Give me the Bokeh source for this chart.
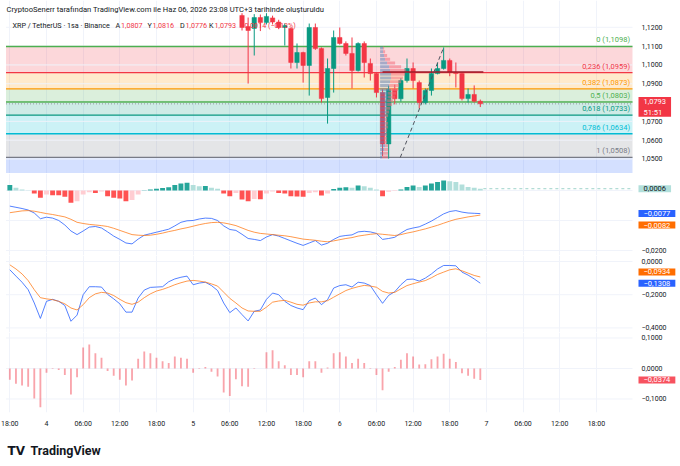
from bokeh.plotting import figure
from bokeh.layouts import column
from bokeh.models import (Range1d, FixedTicker, BoxAnnotation, Label, ColumnDataSource)
from bokeh.core.properties import value
from bokeh.embed import file_html
from bokeh.resources import INLINE

# ---------------- data ----------------
credit_text = "CryptooSenerr tarafından TradingView.com ile Haz 06, 2026 23:08 UTC+3 tarihinde oluşturuldu"
symbol_text = "XRP / TetherUS · 1sa · Binance"
countdown_text = "51:51"
price_change = -0.0014
price_change_pct = -0.13

# hours counted from day 4, 00:00
x_tick_hours = [-6, 0, 6, 12, 18, 24, 30, 36, 42, 48, 54, 60, 66, 72, 78, 84, 90]
x_tick_labels = ["18:00", "4", "06:00", "12:00", "18:00", "5", "06:00", "12:00", "18:00",
                 "6", "06:00", "12:00", "18:00", "7", "06:00", "12:00", "18:00"]

# grid levels and the labels that are visible (others sit behind value tags)
price_grid = [1.05, 1.06, 1.07, 1.08, 1.09, 1.10, 1.11, 1.12]
price_labels = [1.05, 1.06, 1.07, 1.09, 1.10, 1.11, 1.12]
macd_grid = [0.0, -0.01, -0.02]
macd_labels = [-0.02]
osc_grid = [0.0, -0.2, -0.4]
osc_labels = [0.0, -0.2, -0.4]
mom_grid = [0.1, 0.0, -0.1]
mom_labels = [0.1, 0.0, -0.1]

candle_hours = list(range(32, 72))
candle_open = [1.1263, 1.1204, 1.1194, 1.1252, 1.1225, 1.1250, 1.1228, 1.1199, 1.1194, 1.1013,
               1.1066, 1.0997, 1.1199, 1.1087, 1.0827, 1.0981, 1.1146, 1.1114, 1.1061, 1.0970,
               1.1114, 1.1008, 1.0954, 1.0853, 1.0580, 1.0870, 1.0820, 1.0917, 1.0981, 1.0906,
               1.0800, 1.0864, 1.0954, 1.0981, 1.1024, 1.0960, 1.0954, 1.0821, 1.0843, 1.0807]
candle_high = [1.1275, 1.1252, 1.1270, 1.1268, 1.1275, 1.1262, 1.1240, 1.1220, 1.1199, 1.1114,
               1.1070, 1.1220, 1.1220, 1.1093, 1.1034, 1.1183, 1.1199, 1.1125, 1.1146, 1.1120,
               1.1125, 1.1034, 1.0960, 1.0870, 1.0890, 1.0895, 1.0930, 1.1034, 1.1013, 1.0917,
               1.0875, 1.0981, 1.1013, 1.1093, 1.1034, 1.1013, 1.0960, 1.0875, 1.0891, 1.0816]
candle_low = [1.1183, 1.0901, 1.1050, 1.1180, 1.1215, 1.1215, 1.1190, 1.1103, 1.0981, 1.0981,
              1.0906, 1.0837, 1.1080, 1.0800, 1.0688, 1.0853, 1.1108, 1.1050, 1.0875, 1.0965,
              1.0933, 1.0917, 1.0827, 1.0515, 1.0502, 1.0790, 1.0805, 1.0906, 1.0875, 1.0768,
              1.0790, 1.0837, 1.0950, 1.0975, 1.0940, 1.0880, 1.0811, 1.0800, 1.0800, 1.0776]
candle_close = [1.1199, 1.1183, 1.1252, 1.1225, 1.1258, 1.1228, 1.1199, 1.1209, 1.1013, 1.1066,
                1.0997, 1.1199, 1.1087, 1.0821, 1.0981, 1.1146, 1.1114, 1.1061, 1.0970, 1.1114,
                1.1013, 1.0954, 1.0853, 1.0580, 1.0870, 1.0820, 1.0917, 1.0981, 1.0917, 1.0800,
                1.0864, 1.0954, 1.0981, 1.1024, 1.0960, 1.0954, 1.0821, 1.0843, 1.0807, 1.0793]

fib_ratios = [0, 0.236, 0.382, 0.5, 0.618, 0.786, 1, 1.618]
fib_prices = [1.1098, 1.0959, 1.0873, 1.0803, 1.0733, 1.0634, 1.0508, 1.0143]
fib_colors = ["#4caf50", "#f23645", "#ff9800", "#4caf50", "#089981", "#00bcd4", "#787b86", "#2962ff"]

vp_prices = [1.0510, 1.0530, 1.0550, 1.0570, 1.0590, 1.0610, 1.0630, 1.0650, 1.0670, 1.0690,
             1.0710, 1.0730, 1.0750, 1.0770, 1.0790, 1.0810, 1.0830, 1.0850, 1.0870, 1.0890,
             1.0910, 1.0930, 1.0950, 1.0970, 1.0990, 1.1010, 1.1030, 1.1050, 1.1070, 1.1090]
vp_up = [2, 3, 4, 5, 4, 4, 5, 5, 5, 5, 5, 5, 6, 6, 7, 7, 8, 8, 9, 9, 10, 11, 11, 10, 9, 7, 5, 4, 3, 3]
vp_down = [6, 5, 4, 3, 3, 3, 2, 2, 3, 3, 2, 3, 3, 4, 5, 6, 7, 8, 9, 10, 11, 12, 14, 16, 12, 8, 5, 3, 2, 1]
vp_start_hour = 54.6
poc_price = 1.0962
poc_hours = [55.0, 71.5]

trend_hours = [57.9, 65.0]
trend_prices = [1.0508, 1.1093]

ind_hours = list(range(-6, 72))
macd_hist = [0.0018, 0.0009, 0.0003, 0.0001, -0.0010, -0.0024,
             -0.0013, -0.0016, -0.0016, -0.0021, -0.0041, -0.0036, -0.0013, -0.0006, -0.0008, -0.0003,
             -0.0019, -0.0024, -0.0027, -0.0036, -0.0032, -0.0013, 0.0001, 0.0003, 0.0006, 0.0008,
             0.0011, 0.0018, 0.0023, 0.0026, 0.0018, 0.0014, 0.0015, 0.0009, 0.0006, -0.0010,
             -0.0019, -0.0008, -0.0030, -0.0036, -0.0028, -0.0029, -0.0010, -0.0003, -0.0008, -0.0010,
             -0.0019, -0.0020, -0.0021, -0.0008, -0.0006, -0.0017, -0.0010, 0.0005, 0.0009, 0.0011,
             0.0009, 0.0017, 0.0014, 0.0009, 0.0003, -0.0019, -0.0004, -0.0002, 0.0003, 0.0012,
             0.0017, 0.0012, 0.0017, 0.0023, 0.0028, 0.0033, 0.0031, 0.0028, 0.0020, 0.0012,
             0.0009, 0.0006]
macd_line = [-0.0052, -0.0056, -0.0060, -0.0065, -0.0075, -0.0094,
             -0.0089, -0.0092, -0.0100, -0.0115, -0.0135, -0.0147, -0.0135, -0.0122, -0.0120, -0.0125,
             -0.0138, -0.0152, -0.0163, -0.0175, -0.0178, -0.0162, -0.0149, -0.0144, -0.0139, -0.0134,
             -0.0129, -0.0118, -0.0106, -0.0101, -0.0100, -0.0095, -0.0092, -0.0093, -0.0100, -0.0118,
             -0.0130, -0.0133, -0.0146, -0.0160, -0.0163, -0.0167, -0.0155, -0.0147, -0.0152, -0.0160,
             -0.0168, -0.0176, -0.0183, -0.0175, -0.0167, -0.0182, -0.0176, -0.0163, -0.0153, -0.0150,
             -0.0148, -0.0138, -0.0136, -0.0138, -0.0143, -0.0163, -0.0160, -0.0156, -0.0142, -0.0130,
             -0.0125, -0.0121, -0.0112, -0.0102, -0.0090, -0.0078, -0.0070, -0.0067, -0.0072, -0.0075,
             -0.0076, -0.0077]
signal_line = [-0.0074, -0.0071, -0.0068, -0.0067, -0.0069, -0.0073,
               -0.0077, -0.0080, -0.0084, -0.0088, -0.0096, -0.0106, -0.0110, -0.0113, -0.0115, -0.0117,
               -0.0120, -0.0126, -0.0133, -0.0140, -0.0147, -0.0149, -0.0150, -0.0149, -0.0146, -0.0142,
               -0.0137, -0.0133, -0.0128, -0.0124, -0.0119, -0.0114, -0.0110, -0.0107, -0.0106, -0.0108,
               -0.0112, -0.0117, -0.0125, -0.0133, -0.0139, -0.0143, -0.0145, -0.0147, -0.0149, -0.0151,
               -0.0154, -0.0158, -0.0162, -0.0164, -0.0166, -0.0169, -0.0171, -0.0168, -0.0164, -0.0160,
               -0.0157, -0.0152, -0.0149, -0.0146, -0.0144, -0.0146, -0.0148, -0.0150, -0.0147, -0.0142,
               -0.0138, -0.0133, -0.0128, -0.0122, -0.0116, -0.0109, -0.0102, -0.0096, -0.0092, -0.0088,
               -0.0085, -0.0082]
osc_blue = [-0.050, -0.088, -0.125, -0.170, -0.250, -0.343,
            -0.240, -0.228, -0.240, -0.265, -0.360, -0.323, -0.200, -0.152, -0.152, -0.154,
            -0.198, -0.225, -0.255, -0.305, -0.305, -0.220, -0.172, -0.156, -0.154, -0.152,
            -0.122, -0.105, -0.095, -0.088, -0.140, -0.130, -0.125, -0.145, -0.175, -0.250,
            -0.308, -0.280, -0.320, -0.358, -0.300, -0.292, -0.228, -0.190, -0.200, -0.240,
            -0.265, -0.280, -0.290, -0.236, -0.220, -0.260, -0.230, -0.160, -0.145, -0.140,
            -0.154, -0.125, -0.130, -0.145, -0.200, -0.252, -0.204, -0.182, -0.140, -0.108,
            -0.106, -0.118, -0.100, -0.075, -0.045, -0.024, -0.024, -0.026, -0.064, -0.082,
            -0.105, -0.1308]
osc_orange = [-0.020, -0.045, -0.075, -0.115, -0.170, -0.218,
              -0.225, -0.230, -0.240, -0.255, -0.280, -0.292, -0.260, -0.218, -0.195, -0.186,
              -0.190, -0.205, -0.228, -0.248, -0.258, -0.245, -0.218, -0.195, -0.178, -0.168,
              -0.155, -0.140, -0.128, -0.118, -0.114, -0.118, -0.124, -0.135, -0.148, -0.185,
              -0.222, -0.250, -0.280, -0.298, -0.300, -0.300, -0.275, -0.245, -0.238, -0.234,
              -0.245, -0.258, -0.263, -0.250, -0.243, -0.243, -0.236, -0.215, -0.195, -0.175,
              -0.162, -0.152, -0.144, -0.148, -0.155, -0.180, -0.190, -0.186, -0.165, -0.145,
              -0.134, -0.124, -0.115, -0.098, -0.078, -0.064, -0.050, -0.044, -0.056, -0.070,
              -0.084, -0.0934]
mom_bars = [-0.037, -0.050, -0.056, -0.060, -0.098, -0.127,
            -0.014, 0.002, -0.005, -0.021, -0.085, -0.029, 0.069, 0.079, 0.050, 0.035,
            -0.008, -0.024, -0.037, -0.056, -0.039, 0.032, 0.056, 0.050, 0.035, 0.024,
            0.018, 0.039, 0.035, 0.032, -0.014, 0.002, 0.005, -0.011, -0.026, -0.079,
            -0.090, -0.035, -0.058, -0.060, 0.002, 0.000, 0.053, 0.060, 0.024, 0.011,
            -0.021, -0.021, -0.029, 0.024, 0.024, -0.014, 0.003, 0.050, 0.053, 0.039,
            0.018, 0.032, 0.018, 0.002, -0.021, -0.071, -0.011, 0.005, 0.029, 0.050,
            0.039, 0.013, 0.014, 0.030, 0.039, 0.048, 0.032, 0.021, -0.016, -0.024,
            -0.034, -0.0374]

# ---------------- style / geometry ----------------
FONT = "Roboto"
TXT = "#131722"
UP = "#089981"
DOWN = "#f23645"
GRID = "#f0f3fa"
W = 676                     # canvas width (chart + price scale)
PX_PER_HOUR = 6.11
ZERO_PX = 46.0              # pixel of day-4 00:00
X_START = -ZERO_PX / PX_PER_HOUR
X_END = (W - ZERO_PX) / PX_PER_HOUR
CHART_START = (5.5 - ZERO_PX) / PX_PER_HOUR
CHART_END = (632 - ZERO_PX) / PX_PER_HOUR


def tr(v, d=4):
    s = f"{abs(v):.{d}f}".replace(".", ",")
    return ("\u2212" if v < 0 else "") + s


x_range = Range1d(X_START, X_END)


def make_fig(frame_h, y0, y1, grid, labels, show_x=False, bottom=0):
    p = figure(frame_width=W, frame_height=frame_h, x_range=x_range,
               y_range=Range1d(y0, y1), y_axis_location=None,
               x_axis_location="below" if show_x else None,
               toolbar_location=None, output_backend="svg",
               min_border_left=0, min_border_right=0, min_border_top=0,
               min_border_bottom=bottom, outline_line_color=None,
               background_fill_color="white", border_fill_color="white")
    p.ygrid.grid_line_color = None
    p.xgrid.ticker = FixedTicker(ticks=x_tick_hours)
    p.xgrid.grid_line_color = GRID
    # horizontal grid lines limited to the chart area
    p.segment(x0=CHART_START, x1=CHART_END, y0=grid, y1=grid, line_color=GRID, line_width=1)
    # price-scale labels
    p.text(x=[CHART_END] * len(labels), y=labels, text=[tr(t) for t in labels],
           x_offset=9, text_align="left", text_baseline="middle",
           text_font=value(FONT), text_font_size="7px", text_color=TXT)
    if show_x:
        xa = p.xaxis[0]
        xa.ticker = FixedTicker(ticks=x_tick_hours)
        xa.major_label_overrides = dict(zip(x_tick_hours, x_tick_labels))
        xa.axis_line_color = None
        xa.major_tick_line_color = None
        xa.minor_tick_line_color = None
        xa.major_tick_out = 0
        xa.major_tick_in = 0
        xa.major_label_standoff = 7
        xa.major_label_text_font = FONT
        xa.major_label_text_font_size = "7px"
        xa.major_label_text_color = TXT
    return p


def add_tag(p, val, bg, fg="white", text=None, offset=0, pad_v=1):
    p.add_layout(Label(x=CHART_END, y=val, x_units="data", y_units="data",
                       text=text if text is not None else tr(val),
                       text_font=FONT, text_font_size="7.5px", text_color=fg,
                       text_baseline="middle", text_align="left",
                       background_fill_color=bg,
                       padding=dict(left=5, right=5, top=pad_v, bottom=pad_v),
                       x_offset=6, y_offset=offset))


# ---------------- price pane ----------------
p1 = make_fig(173, 1.04228, 1.13425, price_grid, price_labels)

for i in range(1, len(fib_prices)):
    p1.add_layout(BoxAnnotation(top=fib_prices[i - 1], bottom=fib_prices[i],
                                left=CHART_START, right=CHART_END,
                                fill_color=fib_colors[i], fill_alpha=0.2,
                                line_color=None, level="underlay"))
n_lv = len(fib_prices) - 1
p1.segment(x0=CHART_START, x1=CHART_END, y0=fib_prices[:n_lv], y1=fib_prices[:n_lv],
           line_color=fib_colors[:n_lv], line_width=1.3)

last_close = candle_close[-1]
p1.segment(x0=CHART_START, x1=CHART_END, y0=last_close, y1=last_close,
           line_color="#9598a1", line_dash="1 2", line_width=1)

csrc = ColumnDataSource(dict(
    h=candle_hours, hi=candle_high, lo=candle_low,
    top=[max(o, c) for o, c in zip(candle_open, candle_close)],
    bot=[min(o, c) for o, c in zip(candle_open, candle_close)],
    color=[UP if c >= o else DOWN for o, c in zip(candle_open, candle_close)]))
p1.segment(x0="h", y0="hi", x1="h", y1="lo", color="color", line_width=1, source=csrc)
p1.vbar(x="h", width=0.72, top="top", bottom="bot", fill_color="color",
        line_color="color", line_width=0.5, source=csrc)

scale = 1.0 / PX_PER_HOUR
up_right = [vp_start_hour + u * scale for u in vp_up]
dn_right = [r + d * scale for r, d in zip(up_right, vp_down)]
p1.hbar(y=vp_prices, left=vp_start_hour, right=up_right, height=0.0016,
        fill_color="#5f84b8", fill_alpha=0.55, line_color=None)
p1.hbar(y=vp_prices, left=up_right, right=dn_right, height=0.0016,
        fill_color="#f26d7d", fill_alpha=0.55, line_color=None)
p1.line(poc_hours, [poc_price, poc_price], line_color="#9c1c28", line_width=1.5)
p1.line(trend_hours, trend_prices, line_color="#50535e", line_width=1, line_dash="4 3")

fib_texts = [f"{str(r).replace('.', ',')} ({tr(v)})" for r, v in zip(fib_ratios, fib_prices)]
p1.text(x=[CHART_END - 0.4] * n_lv, y=fib_prices[:n_lv], text=fib_texts[:n_lv],
        text_color=fib_colors[:n_lv], text_align="right", text_baseline="bottom",
        y_offset=-2, text_font=value(FONT), text_font_size="7.5px")

add_tag(p1, last_close, DOWN, text=tr(last_close) + "\n" + countdown_text, offset=-3, pad_v=0)

# header texts (screen units measured from the frame's bottom-left corner)
p1.add_layout(Label(x=6, y=164, x_units="screen", y_units="screen", text=credit_text,
                    text_font=FONT, text_font_size="7.6px", text_color=TXT,
                    text_baseline="middle"))
head_y = 148
parts = [(symbol_text, 12, TXT),
         ("A", 115, TXT), (tr(candle_open[-1]), 120.5, DOWN),
         ("Y", 147, TXT), (tr(candle_high[-1]), 152, DOWN),
         ("D", 179.5, TXT), (tr(candle_low[-1]), 185, DOWN),
         ("K", 208.5, TXT), (tr(candle_close[-1]), 214, DOWN),
         (f"{tr(price_change)} ({tr(price_change_pct, 2)}%)", 240, DOWN)]
for txt, xx, col in parts:
    p1.add_layout(Label(x=xx, y=head_y, x_units="screen", y_units="screen", text=txt,
                        text_font=FONT, text_font_size="7.2px", text_color=col,
                        text_baseline="middle"))

# ---------------- MACD pane ----------------
p2 = make_fig(82, -0.02167, 0.00567, macd_grid, macd_labels)
hist_colors = []
for i, v in enumerate(macd_hist):
    prev = macd_hist[i - 1] if i else v
    if v >= 0:
        hist_colors.append("#26a69a" if v >= prev else "#b2dfdb")
    else:
        hist_colors.append("#ff5252" if v <= prev else "#ffcdd2")
p2.vbar(x=ind_hours, top=macd_hist, bottom=0, width=0.8, fill_color=hist_colors, line_color=None)
p2.line([ind_hours[-1] + 0.5, CHART_END], [macd_hist[-1]] * 2, line_color="#9fd3cb",
        line_dash="3 3", line_width=1)
p2.line(ind_hours, macd_line, line_color="#2962ff", line_width=1, line_alpha=0.8)
p2.line(ind_hours, signal_line, line_color="#ff6d00", line_width=1, line_alpha=0.7)
add_tag(p2, macd_hist[-1], "#b2dfdb", fg=TXT)
add_tag(p2, macd_line[-1], "#2962ff")
add_tag(p2, signal_line[-1], "#ff6d00", offset=-10)

# ---------------- oscillator pane ----------------
p3 = make_fig(77, -0.4277, 0.0361, osc_grid, osc_labels)
p3.line(ind_hours, osc_blue, line_color="#2962ff", line_width=1, line_alpha=0.8)
p3.line(ind_hours, osc_orange, line_color="#ff6d00", line_width=1, line_alpha=0.7)
add_tag(p3, osc_orange[-1], "#ff6d00", offset=5)
add_tag(p3, osc_blue[-1], "#2962ff")

# ---------------- bars pane ----------------
p4 = make_fig(80, -0.1443, 0.1180, mom_grid, mom_labels, show_x=True, bottom=18)
p4.vbar(x=ind_hours, top=mom_bars, bottom=0, width=0.3, fill_color=DOWN,
        fill_alpha=0.45, line_color=None)
add_tag(p4, mom_bars[-1], "#f7525f")

# ---------------- footer ----------------
p5 = figure(frame_width=W, frame_height=34, x_range=x_range, toolbar_location=None,
            output_backend="svg", x_axis_location=None, y_axis_location=None,
            min_border=0, outline_line_color=None, background_fill_color="white",
            border_fill_color="white")
p5.xgrid.grid_line_color = None
p5.ygrid.grid_line_color = None
p5.add_layout(Label(x=7, y=14, x_units="screen", y_units="screen", text="TV",
                    text_font="DejaVu Sans", text_font_style="bold", text_font_size="12px",
                    text_color=TXT, text_baseline="middle"))
p5.add_layout(Label(x=30, y=14, x_units="screen", y_units="screen", text="TradingView",
                    text_font=FONT, text_font_style="bold", text_font_size="12.5px",
                    text_color=TXT, text_baseline="middle"))

layout = column(p1, p2, p3, p4, p5, spacing=0)
open("out.html", "w").write(file_html(layout, INLINE))
